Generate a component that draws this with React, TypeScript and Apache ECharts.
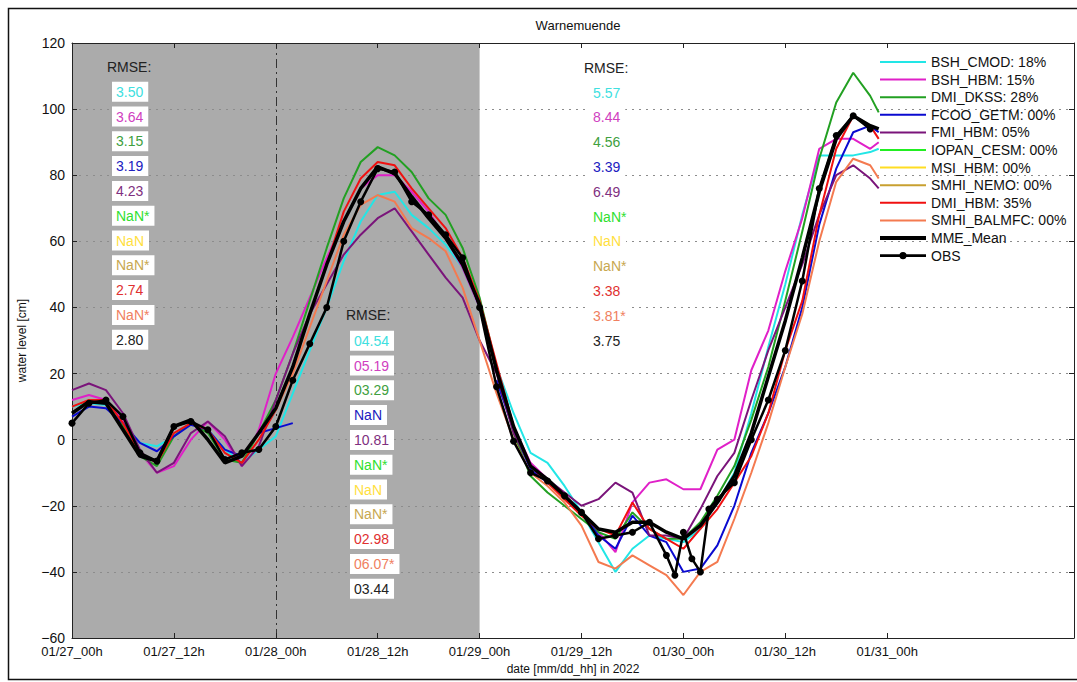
import React, { useEffect, useRef } from "react";
import * as echarts from "echarts";

const HOURS = [0, 2, 4, 6, 8, 10, 12, 14, 16, 18, 20, 22, 24, 26, 28, 30, 32, 34, 36, 38, 40, 42, 44, 46, 48, 50, 52, 54, 56, 58, 60, 62, 64, 66, 68, 70, 72, 74, 76, 78, 80, 82, 84, 86, 88, 90, 92, 94, 95];

const BSH_CMOD = [10, 11, 10.5, 5, -1, -2, 1, 5, 3, -3, -7, -3, 1, 14, 27, 40, 54, 66, 74, 75, 68, 64, 59, 52, 40, 22, 8, -4, -7, -14, -22, -31, -40, -33, -29, -30, -31, -27, -19, -10, 8, 28, 47, 68, 86, 86, 86, 87, 88];
const BSH_HBM = [12, 13.5, 12, 6, -4, -10, -8, 0, 5.5, 0, -8, 3, 20, 31, 43, 55, 66, 76, 80, 80, 75, 69, 61, 52, 40, 22, 4, -7, -12, -17, -22, -28, -34, -19, -13, -12, -15, -15, -3, 0, 21, 33, 51, 67, 88, 91, 91, 88, 90];
const DMI_DKSS = [8, 12, 11, 4, -5, -8, 1, 5, 2, -6, -7, 2, 12, 26, 42, 58, 73, 84, 88.5, 86, 81, 73, 68, 58, 43, 22, 2, -11, -16, -20, -24, -28, -30, -22, -27, -30, -30, -25, -17, -8, 6, 22, 42, 63, 85, 102, 111, 104, 99];
const FCOO_GETM = [7, 10, 9.5, 5, -1, -3.5, 1, 4.5, 3, -3, -5, 2, 3.5, 5, null, null, null, null, null, null, null, null, null, null, null, 18, 3, -9, -13, -17, -22, -29, -33, -23, -29, -31, -40, -39, -32, -20, -4, 8, 22, 40, 65, 82, 93, 95, 93];
const FMI_HBM = [15, 17, 15, 8, -3, -10, -7, 2, 5.5, 1, -8, -2, 12, 26, 38, 47, 56, 62, 67, 70, 63, 56, 49, 43, 30, 20, 2, -8, -12, -16, -20, -18, -13, -16, -29, -29, -30, -21, -11, -4, 12, 27, 40, 53, 68, 80, 83, 79, 76];
const IOPAN_CESM: (number | null)[] = [];
const MSI_HBM: (number | null)[] = [];
const SMHI_NEMO: (number | null)[] = [];
const DMI_HBM = [10, 12, 12, 5, -4, -7, 2, 5, 3, -4, -7, 0, 9, 22, 38, 53, 69, 79, 84, 83, 76, 70, 64, 55, 42, 23, 4, -8, -13, -18, -23, -27, -29, -19, -27, -30, -33, -27, -21, -13, -5, 8, 27, 42, 68, 88, 98, 95, 91];
const SMHI_BALMFC = [null, null, null, null, null, null, null, null, null, null, null, 2, 9, 20, 34, 48, 62, 71, 74, 72, 64, 61, 57, 46, 30, 14, 0, -10, -14, -19, -26, -37, -39, -35, -38, -41, -47, -40, -37, -24, -10, 5, 22, 38, 60, 78, 85, 83, 79];
const MME_MEAN = [8, 11.5, 11, 3, -5, -6.5, 4, 6, 0, -7, -5, 2, 9.5, 22, 38, 53, 66, 76, 82.5, 80.5, 73.5, 67, 61, 53, 41, 21, 4, -8, -12, -17, -22, -27, -28, -25, -25, -28, -30, -26, -19, -11, 2, 19, 36, 55, 75, 91, 98, 95, 94];

const OBS_HOURS = [0, 2, 4, 6, 8, 10, 12, 14, 16, 18, 20, 22, 24, 26, 28, 30, 32, 34, 36, 38, 40, 42, 44, 46, 48, 50, 52, 54, 56, 58, 60, 62, 64, 66, 68, 70, 71, 72, 73, 74, 75, 76, 78, 80, 82, 84, 86, 88, 90, 92, 94];
const OBS = [5, 11, 12, 7, -4, -6.5, 4, 5.5, 3, -6, -4, -3, 4, 18, 29, 40, 60, 72, 82, 81, 72, 68, 62, 55, 40, 16, -0.5, -10, -12.5, -17, -22, -30, -29, -28, -25, -35, -41, -28, -36, -40, -21, -18, -13, 0, 12, 27, 48, 76, 92, 98, 94];

const SERIES_NAMES = ["BSH_CMOD: 18%", "BSH_HBM: 15%", "DMI_DKSS: 28%", "FCOO_GETM: 00%", "FMI_HBM: 05%", "IOPAN_CESM: 00%", "MSI_HBM: 00%", "SMHI_NEMO: 00%", "DMI_HBM: 35%", "SMHI_BALMFC: 00%", "MME_Mean", "OBS"];
const SERIES_VALUES = [BSH_CMOD, BSH_HBM, DMI_DKSS, FCOO_GETM, FMI_HBM, IOPAN_CESM, MSI_HBM, SMHI_NEMO, DMI_HBM, SMHI_BALMFC, MME_MEAN];
const LINE_COLORS = ["#22e6e6", "#e020c8", "#22a022", "#0a0ad0", "#7a147a", "#22ee22", "#ffdd22", "#c8a030", "#f01010", "#f47a50", "#000000", "#000000"];
const TEXT_COLORS = ["#40e0e0", "#d040c0", "#40a040", "#2020c0", "#803080", "#30e030", "#ffe040", "#c8a850", "#e03030", "#f08060", "#222222"];

const XTICK_HOURS = [0, 12, 24, 36, 48, 60, 72, 84, 96];
const XTICK_LABELS = ["01/27_00h", "01/27_12h", "01/28_00h", "01/28_12h", "01/29_00h", "01/29_12h", "01/30_00h", "01/30_12h", "01/31_00h"];
const SHADE_END = 48;
const DASH_AT = 24;

const RMSE_LEFT = ["3.50", "3.64", "3.15", "3.19", "4.23", "NaN*", "NaN", "NaN*", "2.74", "NaN*", "2.80"];
const RMSE_MID = ["04.54", "05.19", "03.29", "NaN", "10.81", "NaN*", "NaN", "NaN*", "02.98", "06.07*", "03.44"];
const RMSE_RIGHT = ["5.57", "8.44", "4.56", "3.39", "6.49", "NaN*", "NaN", "NaN*", "3.38", "3.81*", "3.75"];

const FONT = "'Liberation Sans', Arial, Helvetica, sans-serif";

const ICON_LINE = "path://M0,0H46V2H0Z";
const ICON_THICK = "path://M0,0H46V4H0Z";
const ICON_OBS = "path://M0,3.7H46V6.3H0Z M23,1.4A3.6,3.6,0,1,1,23,8.6A3.6,3.6,0,1,1,23,1.4Z";

function rmseColumn(values: string[], headX: number, headY: number, boxX: number, y0: number, step: number) {
  const els: any[] = [
    { type: "text", x: headX, y: headY, z: 100, style: { text: "RMSE:", fill: "#222", font: `14px ${FONT}`, align: "left", verticalAlign: "middle" } },
  ];
  values.forEach((v, i) => {
    els.push({
      type: "text",
      x: boxX,
      y: y0 + i * step,
      z: 100,
      style: {
        text: v,
        fill: TEXT_COLORS[i],
        font: `14px ${FONT}`,
        align: "left",
        verticalAlign: "middle",
        backgroundColor: "#ffffff",
        padding: [3, 5, 3, 4],
      },
    });
  });
  return els;
}

export default function App() {
  const ref = useRef<HTMLDivElement>(null);
  useEffect(() => {
    if (!ref.current) return;
    const chart = echarts.init(ref.current, null, { renderer: "svg" });
    const series: any[] = [
      {
        name: "__shade",
        type: "line",
        data: [],
        z: 1,
        markArea: {
          silent: true,
          z: 1,
          itemStyle: { color: "#ababab" },
          data: [[{ xAxis: 0 }, { xAxis: SHADE_END }]],
        },
        markLine: {
          silent: true,
          z: 1,
          symbol: "none",
          label: { show: false },
          lineStyle: { color: "#333", width: 1, type: [9, 4, 2, 4] },
          data: [{ xAxis: DASH_AT }],
        },
      },
    ];
    SERIES_VALUES.forEach((vals, i) => {
      const isMME = i === 10;
      series.push({
        name: SERIES_NAMES[i],
        type: "line",
        z: isMME ? 5 : 3,
        symbol: "none",
        connectNulls: false,
        data: vals.map((v, k) => [HOURS[k], v]),
        lineStyle: { color: LINE_COLORS[i], width: isMME ? 3.5 : 2 },
        itemStyle: { color: LINE_COLORS[i] },
      });
    });
    series.push({
      name: SERIES_NAMES[11],
      type: "line",
      z: 6,
      symbol: "circle",
      symbolSize: 7,
      data: OBS.map((v, k) => [OBS_HOURS[k], v]),
      lineStyle: { color: "#000", width: 2.5 },
      itemStyle: { color: "#000" },
    });

    const legendData = SERIES_NAMES.map((n, i) => ({
      name: n,
      icon: i === 11 ? ICON_OBS : i === 10 ? ICON_THICK : ICON_LINE,
    }));

    const option: any = {
      animation: false,
      backgroundColor: "#ffffff",
      textStyle: { fontFamily: FONT },
      title: {
        text: "Warnemuende",
        left: 573,
        top: 14,
        textAlign: "center",
        textStyle: { fontSize: 13, fontWeight: "normal", color: "#111", fontFamily: FONT },
      },
      grid: { left: 72, right: 3, top: 43, bottom: 44 },
      legend: {
        data: legendData,
        orient: "vertical",
        left: 875,
        top: 50,
        itemWidth: 46,
        itemHeight: 10,
        itemGap: 3.6,
        selectedMode: false,
        textStyle: { fontSize: 14, color: "#111", fontFamily: FONT },
      },
      xAxis: [
        {
          type: "value",
          min: 0,
          max: 118,
          interval: 12,
          position: "bottom",
          z: 2,
          axisLine: { onZero: false, lineStyle: { color: "#222", width: 1 } },
          axisTick: { inside: true, length: 5, customValues: XTICK_HOURS, lineStyle: { color: "#222" } },
          axisLabel: {
            customValues: XTICK_HOURS,
            color: "#111",
            fontSize: 13,
            margin: 7,
            formatter: (v: number) => {
              const idx = XTICK_HOURS.indexOf(v);
              return idx >= 0 ? XTICK_LABELS[idx] : "";
            },
          },
          splitLine: { show: false },
          name: "date [mm/dd_hh] in 2022",
          nameLocation: "middle",
          nameGap: 25,
          nameTextStyle: { fontSize: 12, color: "#111" },
        },
        {
          type: "value",
          min: 0,
          max: 118,
          interval: 12,
          position: "top",
          z: 2,
          axisLine: { onZero: false, lineStyle: { color: "#222", width: 1 } },
          axisTick: { inside: true, length: 5, customValues: XTICK_HOURS, lineStyle: { color: "#222" } },
          axisLabel: { show: false },
          splitLine: { show: false },
        },
      ],
      yAxis: [
        {
          type: "value",
          min: -60,
          max: 120,
          interval: 20,
          position: "left",
          z: 2,
          axisLine: { onZero: false, lineStyle: { color: "#222", width: 1 } },
          axisTick: { inside: true, length: 5, lineStyle: { color: "#222" } },
          axisLabel: {
            color: "#111",
            fontSize: 14,
            margin: 7,
            formatter: (v: number) => (v < 0 ? "\u2212" + Math.abs(v) : String(v)),
          },
          splitLine: { show: true, lineStyle: { color: "#8c8c8c", width: 1, type: [2, 5] } },
          name: "water level [cm]",
          nameLocation: "middle",
          nameGap: 44,
          nameRotate: 90,
          nameTextStyle: { fontSize: 12, color: "#111" },
        },
        {
          type: "value",
          min: -60,
          max: 120,
          interval: 20,
          position: "right",
          z: 2,
          axisLine: { onZero: false, lineStyle: { color: "#222", width: 1 } },
          axisTick: { inside: true, length: 5, lineStyle: { color: "#222" } },
          axisLabel: { show: false },
          splitLine: { show: false },
        },
      ],
      series,
      graphic: [
        { type: "rect", z: 0, shape: { x: 8.5, y: 8.5, width: 1080, height: 671 }, style: { fill: "none", stroke: "#111", lineWidth: 1.5 } },
        ...rmseColumn(RMSE_LEFT, 107, 67, 112, 91.7, 24.8),
        ...rmseColumn(RMSE_MID, 346, 315, 350, 340.7, 24.8),
        ...rmseColumn(RMSE_RIGHT, 584, 68, 589, 92.5, 24.8),
      ],
    };
    chart.setOption(option);
    return () => chart.dispose();
  }, []);
  return <div ref={ref} style={{ position: "absolute", left: 0, top: 0, width: 1077, height: 682 }} />;
}
